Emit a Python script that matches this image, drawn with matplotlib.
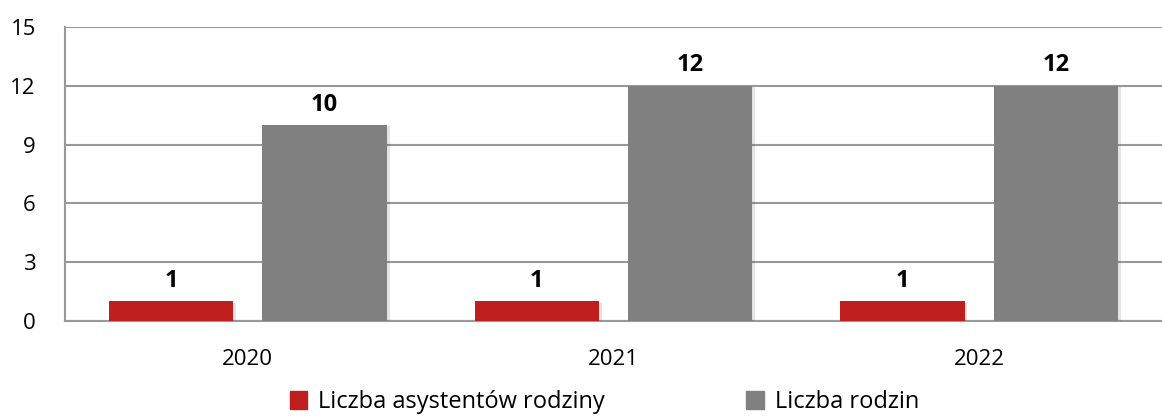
import numpy as np
import matplotlib
matplotlib.use("Agg")
import matplotlib.pyplot as plt
import matplotlib.patheffects as pe

years = ["2020", "2021", "2022"]
asystenci = [1, 1, 1]
rodziny = [10, 12, 12]
series_names = ["Liczba asystentów rodziny", "Liczba rodzin"]
colors = ["#BE1E1E", "#808080"]

plt.rcParams["font.family"] = ["Open Sans", "DejaVu Sans"]

fig = plt.figure(figsize=(11.62, 4.19), dpi=100)
ax = fig.add_axes([65 / 1162, 1 - 321 / 419, 1 - 65 / 1162, (321 - 27) / 419])

x = np.arange(len(years))
w = 0.34
off = 0.21
shadow = [pe.SimplePatchShadow(offset=(2, -1), alpha=0.12), pe.Normal()]
b1 = ax.bar(x - off, asystenci, w, color=colors[0], zorder=3, path_effects=shadow)
b2 = ax.bar(x + off, rodziny, w, color=colors[1], zorder=3, path_effects=shadow)

for bars in (b1, b2):
    ax.bar_label(bars, padding=6, fontsize=17, fontweight="bold")

ax.set_xlim(-0.5, 2.5)
ax.set_ylim(0, 15)
ax.set_yticks(range(0, 16, 3))
ax.set_xticks(x)
ax.set_xticklabels(years)
ax.tick_params(axis="both", length=0, labelsize=16)
ax.tick_params(axis="x", pad=20)
ax.tick_params(axis="y", pad=21)
ax.yaxis.grid(True, color="#999999", linewidth=1.5, zorder=0)
ax.set_axisbelow(True)
for s in ["top", "right"]:
    ax.spines[s].set_visible(False)
for s in ["left", "bottom"]:
    ax.spines[s].set_color("#999999")
    ax.spines[s].set_linewidth(1.5)

handles = [plt.Rectangle((0, 0), 1, 1, color=c) for c in colors]
fig.legend(handles=handles, labels=series_names, loc="center", bbox_to_anchor=(0.52, 0.04),
           ncol=2, frameon=False, fontsize=17, handlelength=0.75, handleheight=0.75,
           handletextpad=0.45, columnspacing=6.0, borderpad=0)

fig.savefig("out.png", dpi=100)
